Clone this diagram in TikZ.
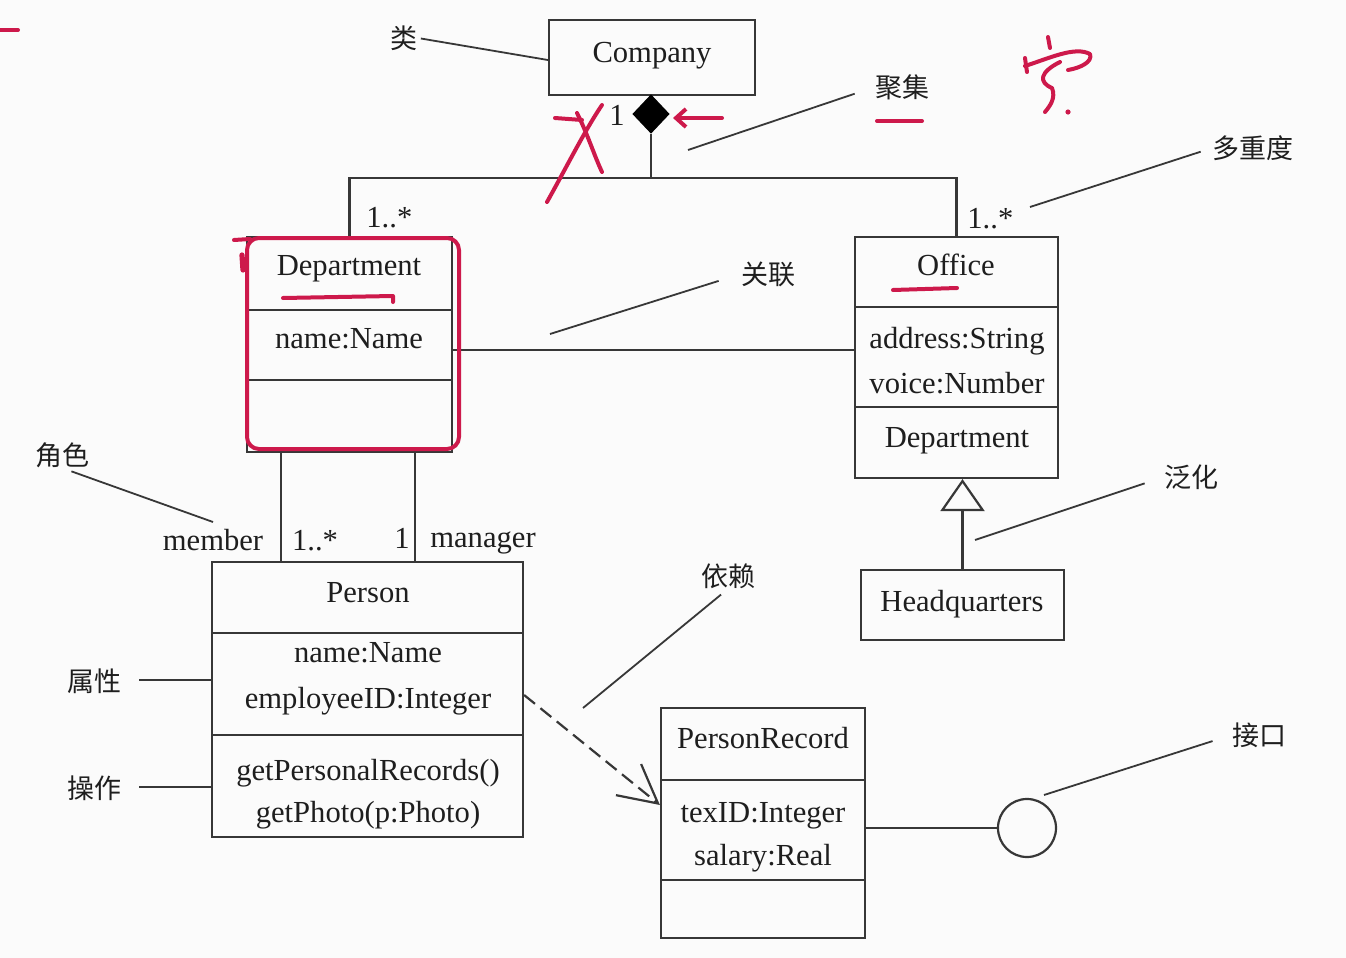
\documentclass[tikz,border=0pt]{standalone}
\usepackage{fontspec}
\setmainfont{Liberation Serif}
\newfontfamily\cjkfont{Noto Sans CJK SC}
\usetikzlibrary{arrows.meta,shapes.geometric}
\definecolor{lineC}{RGB}{55,55,55}
\definecolor{textC}{RGB}{30,30,30}
\definecolor{redC}{RGB}{205,25,75}
\definecolor{bgC}{RGB}{251,251,251}
\tikzset{
  cls/.style={draw=lineC, line width=1.1pt, inner sep=0pt},
  sepline/.style={draw=lineC, line width=1.1pt},
  conn/.style={draw=lineC, line width=1.1pt},
  lead/.style={draw=lineC, line width=0.9pt},
  txt/.style={font=\fontsize{15.3}{18}\selectfont, text=textC, inner sep=0pt, anchor=base},
  zh/.style={font=\cjkfont\fontsize{13.5}{16}\selectfont, text=textC, inner sep=0pt},
  redmark/.style={draw=redC, line width=2pt, line cap=round, line join=round}
}
\begin{document}
\begin{tikzpicture}[x=0.5pt,y=-0.5pt]
\fill[bgC] (0,0) rectangle (1346,958);
\useasboundingbox (0,0) rectangle (1346,958);

% ---------- classes ----------
\node[cls, minimum width=103pt, minimum height=37.5pt] (company) at (652,57.5) {};
\node[txt] (tcompany) at (652,62) {Company};

\node[cls, minimum width=102.5pt, minimum height=107.5pt] (dept) at (349.5,344.5) {};
\draw[sepline] (247,310) -- (452,310);
\draw[sepline] (247,380) -- (452,380);
\node[txt] (tdept) at (349,275) {Department};
\node[txt] (tdeptname) at (349,348) {name:Name};

\node[cls, minimum width=101.5pt, minimum height=120.5pt] (office) at (956.5,357.5) {};
\draw[sepline] (855,307) -- (1058,307);
\draw[sepline] (855,407) -- (1058,407);
\node[txt] (toffice) at (956,275) {Office};
\node[txt] (taddr) at (957,348) {address:String};
\node[txt] (tvoice) at (957,393) {voice:Number};
\node[txt] (tofdept) at (957,447) {Department};

\node[cls, minimum width=101.5pt, minimum height=35pt] (hq) at (962.5,605) {};
\node[txt] (thq) at (962,611) {Headquarters};

\node[cls, minimum width=155.5pt, minimum height=137.5pt] (person) at (367.5,699.5) {};
\draw[sepline] (212,633) -- (523,633);
\draw[sepline] (212,735) -- (523,735);
\node[txt] (tperson) at (368,602) {Person};
\node[txt] (tpname) at (368,662) {name:Name};
\node[txt] (tpemp) at (368,708) {employeeID:Integer};
\node[txt] (tpget) at (368,780) {getPersonalRecords()};
\node[txt] (tpphoto) at (368,822) {getPhoto(p:Photo)};

\node[cls, minimum width=102pt, minimum height=115pt] (prec) at (763,823) {};
\draw[sepline] (661,780) -- (865,780);
\draw[sepline] (661,880) -- (865,880);
\node[txt] (tprec) at (763,748) {PersonRecord};
\node[txt] (ttex) at (763,822) {texID:Integer};
\node[txt] (tsal) at (763,865) {salary:Real};

\node[draw=lineC, line width=1.1pt, circle, minimum size=29pt, inner sep=0pt] (iface) at (1027,828) {};

% ---------- connectors ----------
\node[diamond, fill=black, draw=black, line width=0.6pt, inner sep=0pt, minimum width=18pt, minimum height=19pt] (dia) at (651,114) {};
\coordinate (yj) at (0,178);
\draw[conn] (dia.south) -- (dia.south |- yj);
\draw[conn] (dept.north) |- (dia.south |- yj) -| (office.north);

\coordinate (ya) at (0,350);
\draw[conn] (dept.east |- ya) -- (office.west |- ya);

\draw[conn, -{Triangle[open, length=16pt, width=22pt, fill=bgC]}] (hq.north) -- (hq.north |- office.south);

\coordinate (xm) at (281,0);
\coordinate (xmg) at (415,0);
\draw[conn] (dept.south -| xm) -- (person.north -| xm);
\draw[conn] (dept.south -| xmg) -- (person.north -| xmg);

\coordinate (yd1) at (0,695);
\coordinate (yd2) at (0,805);
\draw[conn, dash pattern=on 7pt off 3.5pt, -{Straight Barb[length=19pt, width=20pt, line width=1.1pt]}] (person.east |- yd1) -- (prec.west |- yd2);

\draw[conn] (prec.east |- iface) -- (iface.west);

% ---------- multiplicities / roles ----------
\node[txt] (m1) at (617,125) {1};
\node[txt, anchor=base west] (m2) at (366,227) {1..*};
\node[txt, anchor=base west] (m3) at (967,228) {1..*};
\node[txt] (rmember) at (213,550) {member};
\node[txt] (m4) at (315,550) {1..*};
\node[txt] (m5) at (402,548) {1};
\node[txt] (rmanager) at (483,547) {manager};

% ---------- annotation labels ----------
\node[zh] (lei) at (404,38) {类};
\node[zh] (juji) at (902,87) {聚集};
\node[zh] (duo) at (1253,148) {多重度};
\node[zh] (guan) at (768,274) {关联};
\node[zh] (juese) at (62,455) {角色};
\node[zh] (fan) at (1191,477) {泛化};
\node[zh] (shu) at (95,681) {属性};
\node[zh] (cao) at (95,788) {操作};
\node[zh] (yi) at (728,576) {依赖};
\node[zh] (jie) at (1259,735) {接口};

\coordinate (yl) at (0,60);
\draw[lead, shorten <=1.5pt] (lei.east) -- (company.west |- yl);
\coordinate (cjuji) at (688,150);
\draw[lead, shorten <=10.5pt] (juji.west) -- (cjuji);
\coordinate (cduo) at (1030,207);
\draw[lead, shorten <=6pt] (duo.west) -- (cduo);
\coordinate (cguan) at (550,334);
\draw[lead, shorten <=11.5pt] (guan.west) -- (cguan);
\coordinate (cjuese) at (213,522);
\draw[lead, shorten <=5pt] (juese.south) -- (cjuese);
\coordinate (cfan) at (975,540);
\draw[lead, shorten <=10pt] (fan.west) -- (cfan);
\coordinate (ys) at (0,680);
\draw[lead, shorten <=8.5pt] (shu.east |- ys) -- (person.west |- ys);
\coordinate (yc) at (0,787);
\draw[lead, shorten <=8.5pt] (cao.east |- yc) -- (person.west |- yc);
\coordinate (cyi) at (583,708);
\draw[lead, shorten <=4.5pt] (yi.south) -- (cyi);
\coordinate (cjie) at (1044,795);
\draw[lead, shorten <=10pt] (jie.west) -- (cjie);

% ---------- red handwritten marks ----------
\draw[redmark] (0,30) -- (18,30);
% rounded frame around Department
\draw[redmark, line width=2pt, rounded corners=6pt] (247,238) rectangle (459,449);
\draw[redmark] (234,240) -- (250,239);
\draw[redmark, line width=2.6pt] (242,255) -- (243,270);
% underlines
\draw[redmark] (283,298) -- (393,296) -- (393,302);
\draw[redmark] (893,290) -- (957,288);
\draw[redmark] (877,121) -- (922,121);
% cross near aggregation
\draw[redmark] (555,118) -- (582,120);
\draw[redmark] (547,202) .. controls (565,170) and (585,130) .. (602,105);
\draw[redmark] (577,113) .. controls (588,135) and (594,155) .. (602,172);
% arrow pointing at the diamond
\draw[redmark, -{Straight Barb[length=5pt, width=9pt]}] (722,118) -- (673,118);
% handwritten character
\draw[redmark] (1048,37) -- (1050,48);
\draw[redmark] (1025,58) -- (1027,72);
\draw[redmark] (1025,66) .. controls (1050,58) and (1075,46) .. (1090,54) .. controls (1093,62) and (1080,68) .. (1068,70);
\draw[redmark] (1060,62) .. controls (1040,72) and (1038,82) .. (1052,88) .. controls (1056,98) and (1050,106) .. (1045,112);
\fill[redC] (1068,112) circle[radius=1.3pt];
\end{tikzpicture}
\end{document}
